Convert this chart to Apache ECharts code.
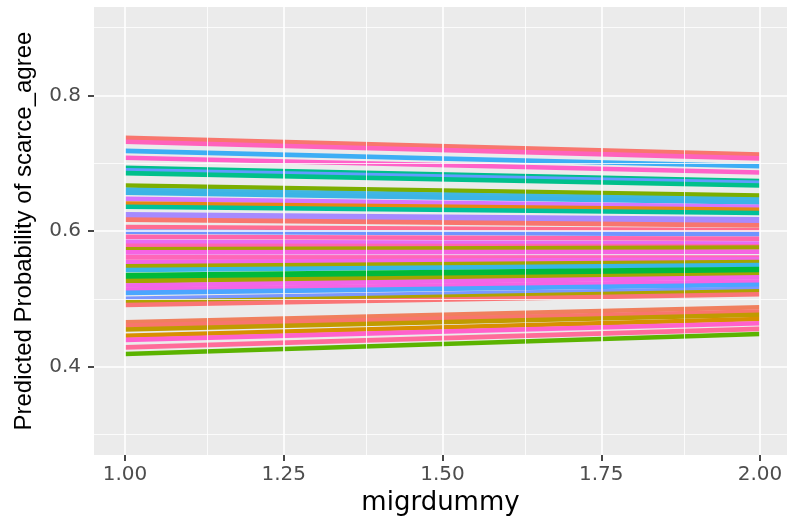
<!DOCTYPE html>
<html>
<head>
<meta charset="utf-8">
<script src="https://cdn.jsdelivr.net/npm/echarts@6/dist/echarts.min.js"></script>
<style>html,body{margin:0;padding:0;background:#fff;}#chart{width:787px;height:521px;}</style>
</head>
<body>
<div id="chart"></div>
<script>
// x positions of the two predicted points
const xValues = [1, 2];
// predicted probability at migrdummy = 1
const startValues = [0.7375,0.7317,0.7183,0.7082,0.6932,0.6898,0.6855,0.6672,0.6610,0.6566,0.6475,0.6407,0.6360,0.6249,0.6201,0.6169,0.6061,0.5993,0.5917,0.5844,0.5782,0.5733,0.5686,0.5613,0.5541,0.5483,0.5426,0.5353,0.5296,0.5262,0.5199,0.5137,0.5089,0.5003,0.4949,0.4910,0.4656,0.4607,0.4549,0.4458,0.4396,0.4285,0.4188];
// predicted probability at migrdummy = 2
const endValues = [0.7129,0.7072,0.6956,0.6865,0.6740,0.6711,0.6672,0.6523,0.6465,0.6422,0.6360,0.6316,0.6267,0.6176,0.6129,0.6085,0.6013,0.5956,0.5888,0.5815,0.5776,0.5758,0.5696,0.5609,0.5584,0.5545,0.5498,0.5440,0.5390,0.5358,0.5320,0.5257,0.5209,0.5151,0.5112,0.5069,0.4877,0.4815,0.4766,0.4704,0.4642,0.4559,0.4483];
const lineColors = ['#F8766D','#FF62BC','#3DAEF5','#FF61C9','#00BE8C','#619CFF','#00C08B','#7CAE00','#40B6E3','#3CB4E6','#D575FE','#E68613','#00C19A','#A58AFF','#A88AFF','#F8766D','#FF6C91','#6F95FF','#FF65AC','#E76BF3','#FF64B0','#A3A500','#F564E3','#FF66B8','#F166E8','#A3A500','#39B6E7','#00BA38','#00B93F','#A3A500','#F166E8','#F564E3','#4BA6FF','#7B97FF','#AEA200','#FA7476','#F07F5D','#F8766D','#C09B00','#D89000','#FF61CC','#FF6C9A','#5BB300'];
// axis ticks
const xTicks = [1.00, 1.25, 1.50, 1.75, 2.00];
const xMinorGrid = [1.125, 1.375, 1.625, 1.875];
const yTicks = [0.4, 0.6, 0.8];
const yMinorGrid = [0.3, 0.5, 0.7, 0.9];

const chart = echarts.init(document.getElementById('chart'));

const gridLines = [];
xTicks.forEach(v => gridLines.push({xAxis: v, lineStyle: {width: 1.6}}));
xMinorGrid.forEach(v => gridLines.push({xAxis: v, lineStyle: {width: 0.8}}));
yTicks.forEach(v => gridLines.push({yAxis: v, lineStyle: {width: 1.6}}));
yMinorGrid.forEach(v => gridLines.push({yAxis: v, lineStyle: {width: 0.8}}));

const series = [{
  type: 'line', data: [], z: 1, silent: true,
  markLine: {
    silent: true, symbol: ['none', 'none'], label: {show: false},
    lineStyle: {color: '#FFFFFF', type: 'solid'},
    emphasis: {disabled: true},
    animation: false,
    data: gridLines
  }
}];
startValues.forEach((s, i) => {
  series.push({
    type: 'line', z: 2, symbol: 'none', silent: true, animation: false,
    data: [[xValues[0], s], [xValues[1], endValues[i]]],
    lineStyle: {color: lineColors[i], width: 4.6, cap: 'butt'}
  });
});

chart.setOption({
  animation: false,
  grid: {left: 94, right: 0, top: 7, bottom: 56, show: true, backgroundColor: '#EBEBEB', borderWidth: 0},
  xAxis: {
    type: 'value', min: 0.9512, max: 2.0425,
    name: 'migrdummy', nameLocation: 'middle', nameGap: 31,
    nameTextStyle: {color: '#000', fontSize: 26, fontFamily: 'DejaVu Sans'},
    axisLine: {show: false},
    axisTick: {show: true, customValues: xTicks, length: 6, lineStyle: {color: '#333', width: 1.8}},
    axisLabel: {customValues: xTicks, margin: 10, color: '#4D4D4D', fontSize: 20, fontFamily: 'DejaVu Sans',
      formatter: v => v.toFixed(2)},
    splitLine: {show: false}
  },
  yAxis: {
    type: 'value', min: 0.2697, max: 0.9305,
    name: 'Predicted Probability of scarce_agree', nameLocation: 'middle', nameGap: 58,
    nameTextStyle: {color: '#000', fontSize: 24, fontFamily: 'Liberation Sans'},
    axisLine: {show: false},
    axisTick: {show: true, customValues: yTicks, length: 6, lineStyle: {color: '#333', width: 1.8}},
    axisLabel: {customValues: yTicks, margin: 13, color: '#4D4D4D', fontSize: 20, fontFamily: 'DejaVu Sans',
      formatter: v => v.toFixed(1)},
    splitLine: {show: false}
  },
  series: series
});
</script>
</body>
</html>
